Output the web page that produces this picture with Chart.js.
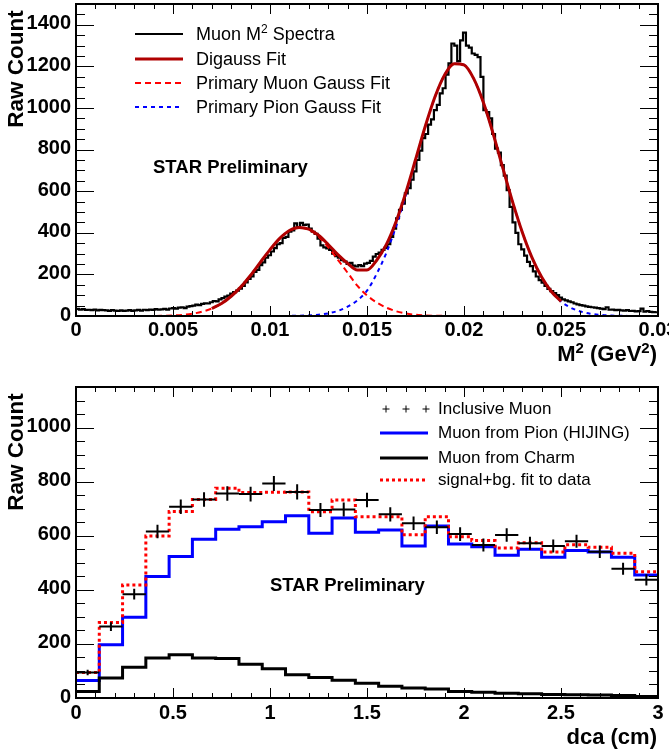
<!DOCTYPE html>
<html>
<head>
<meta charset="utf-8">
<script src="https://cdn.jsdelivr.net/npm/chart.js@4/dist/chart.umd.min.js"></script>
<style>
  html, body { margin:0; padding:0; background:#fff; }
  #wrap { position:relative; width:669px; height:755px; overflow:hidden; font-family:"Liberation Sans", Arial, Helvetica, sans-serif; color:#000; }
  canvas { position:absolute; left:0; }
  .t { position:absolute; white-space:nowrap; line-height:20px; }
  .leg1 { font-size:18px; }
  .leg2 { font-size:17px; }
  .bold { font-weight:bold; }
  .sup { font-size:12px; position:relative; top:-7px; }
  .supb { font-size:15px; position:relative; top:-8px; }
  .rot { transform: translate(-50%,-50%) rotate(-90deg); }
</style>
</head>
<body>
<div id="wrap">
  <canvas id="c1" width="669" height="370" style="top:0"></canvas>
  <canvas id="c2" width="669" height="385" style="top:370px"></canvas>

  <div class="t leg1" style="left:196px;top:24px">Muon M<span class="sup">2</span> Spectra</div>
  <div class="t leg1" style="left:196px;top:49px">Digauss Fit</div>
  <div class="t leg1" style="left:196px;top:73px">Primary Muon Gauss Fit</div>
  <div class="t leg1" style="left:196px;top:97px">Primary Pion Gauss Fit</div>
  <div class="t bold" style="left:153px;top:157px;font-size:18.5px">STAR Preliminary</div>
  <div class="t bold rot" style="left:16px;top:69px;font-size:22.5px">Raw Count</div>
  <div class="t bold" style="right:12px;top:342px;font-size:22px;line-height:24px">M<span class="supb">2</span> (GeV<span class="supb">2</span>)</div>

  <div class="t leg2" style="left:438px;top:399px">Inclusive Muon</div>
  <div class="t leg2" style="left:438px;top:423px">Muon from Pion (HIJING)</div>
  <div class="t leg2" style="left:438px;top:448px">Muon from Charm</div>
  <div class="t leg2" style="left:438px;top:470px">signal+bg. fit to data</div>
  <div class="t bold" style="left:270px;top:575px;font-size:18.5px">STAR Preliminary</div>
  <div class="t bold rot" style="left:16px;top:452px;font-size:22.5px">Raw Count</div>
  <div class="t bold" style="right:12px;top:725px;font-size:22px;line-height:24px">dca (cm)</div>
</div>
<script>
// ---------------- TOP PANEL DATA: M^2 spectrum ----------------
const M2_BIN_WIDTH = 0.00015; // 200 bins over 0 .. 0.03
const m2Counts = [
  34,31,33,29,30,28,31,27,29,28,
  27,25,28,26,24,27,25,26,28,25,
  27,29,26,30,28,31,29,33,30,32,
  34,31,36,38,35,40,42,38,45,47,
  50,55,52,58,61,60,66,72,70,80,
  86,93,98,108,115,122,132,145,162,178,
  190,212,222,245,258,280,292,310,326,345,
  350,375,380,405,412,445,425,448,438,440,
  420,405,395,372,340,330,325,318,300,288,
  280,268,262,250,255,242,238,245,240,252,
  255,265,285,298,305,318,328,345,380,420,
  470,510,540,590,615,655,695,750,795,855,
  875,920,945,990,1015,1070,1095,1160,1215,1310,
  1300,1225,1325,1362,1300,1290,1262,1255,1245,1150,
  990,980,950,875,805,785,725,675,605,525,
  450,400,345,320,290,260,240,215,190,172,
  160,145,130,120,110,100,88,80,75,70,
  66,60,56,52,50,46,44,42,40,38,
  35,33,42,30,31,28,29,27,26,28,
  24,25,22,23,35,21,24,20,19,18
];
const gaussX = [
  0,0.0005,0.001,0.0015,0.002,0.0025,0.003,0.0035,0.004,0.0045,
  0.005,0.0055,0.006,0.0065,0.007,0.0075,0.008,0.0085,0.009,0.0095,
  0.01,0.0105,0.011,0.0115,0.012,0.0125,0.013,0.0135,0.014,0.0145,
  0.015,0.0155,0.016,0.0165,0.017,0.0175,0.018,0.0185,0.019,0.0195,
  0.02,0.0205,0.021,0.0215,0.022,0.0225,0.023,0.0235,0.024,0.0245,
  0.025,0.0255,0.026,0.0265,0.027,0.0275,0.028,0.0285,0.029,0.0295,0.03
];
const muonGauss = [
  0,0,0,0,0,0,0,0.1,0.2,1,
  2.6,5.5,10.9,20.5,36,60,95,140,196,258,
  319,373,410,425,415,382,331,270,208,146,
  99,65,40,23,12,6,3,1.3,0.5,0.2,
  0,0,0,0,0,0,0,0,0,0,
  0,0,0,0,0,0,0,0,0,0,0
];
const pionGauss = [
  0,0,0,0,0,0,0,0,0,0,
  0,0,0,0,0,0,0,0,0,0,
  0.1,0.3,0.6,1.4,3,6.3,12.8,24.6,45,75,
  122,203,304,431,581,745,908,1052,1159,1213,
  1207,1141,1026,877,712,550,404,282,187,118,
  70,40,22,11,5.5,2.5,1.1,0.5,0.2,0.1,0
];
const fitX = [
  0.007,0.0075,0.008,0.0085,0.009,0.0095,0.01,0.0105,0.011,0.0115,
  0.012,0.0125,0.013,0.0135,0.014,0.0145,0.015,0.0155,0.016,0.0165,
  0.017,0.0175,0.018,0.0185,0.019,0.0195,0.02,0.0205,0.021,0.0215,
  0.022,0.0225,0.023,0.0235,0.024,0.0245,0.025
];
const digaussFit = [
  36,60,95,140,196,258,319,373,411,426,
  418,388,344,295,253,221,221,268,344,454,
  593,751,911,1053,1159,1213,1207,1141,1026,877,
  712,550,404,282,187,118,70
];
const topXTickValues = [0,0.005,0.01,0.015,0.02,0.025,0.03];
const topXTickLabels = ['0','0.005','0.01','0.015','0.02','0.025','0.03'];
const topYTickValues = [0,200,400,600,800,1000,1200,1400];
const topYTickLabels = ['0','200','400','600','800','1000','1200','1400'];

// ---------------- BOTTOM PANEL DATA: dca ----------------
const dcaEdges = [0,0.12,0.24,0.36,0.48,0.6,0.72,0.84,0.96,1.08,1.2,1.32,1.44,1.56,1.68,1.8,1.92,2.04,2.16,2.28,2.4,2.52,2.64,2.76,2.88,3.0];
const inclusiveMuon = [94,264,384,616,707,734,756,754,793,762,695,697,732,679,646,631,606,566,603,572,562,580,541,478,437];
const inclusiveErr  = [10,16,20,25,27,27,27,27,28,28,26,26,27,26,25,25,25,24,25,24,24,24,23,22,21];
const muonFromPion  = [65,197,299,449,523,587,624,633,652,674,609,666,613,621,562,636,569,559,528,550,520,545,540,520,455];
const muonFromCharm = [24,74,114,148,160,148,146,125,108,86,76,66,55,43,37,33,24,21,18,16,13,12,11,9,6];
const signalBgFit   = [94,279,418,599,690,734,776,760,761,762,689,732,670,670,604,670,596,582,555,574,540,567,557,535,467];
const botXTickValues = [0,0.5,1,1.5,2,2.5,3];
const botXTickLabels = ['0','0.5','1','1.5','2','2.5','3'];
const botYTickValues = [0,200,400,600,800,1000];
const botYTickLabels = ['0','200','400','600','800','1000'];

// ---------------- helpers ----------------
function stepFromBins(counts, width) {
  const pts = counts.map((v, i) => ({x: i * width, y: v}));
  pts.push({x: counts.length * width, y: counts[counts.length - 1]});
  return pts;
}
function stepFromEdges(edges, counts) {
  const pts = counts.map((v, i) => ({x: edges[i], y: v}));
  pts.push({x: edges[edges.length - 1], y: counts[counts.length - 1]});
  return pts;
}
function xy(xs, ys) { return xs.map((x, i) => ({x: x, y: ys[i]})); }

const FONT = '"Liberation Sans", Arial, Helvetica, sans-serif';

function rootAxes(o) {
  return {
    id: 'rootAxes',
    afterDatasetsDraw(chart) {
      const ctx = chart.ctx, a = chart.chartArea, xs = chart.scales.x, ys = chart.scales.y;
      ctx.save();
      ctx.strokeStyle = '#000';
      ctx.lineWidth = 1;
      ctx.setLineDash([]);
      const seg = (x1, y1, x2, y2) => { ctx.beginPath(); ctx.moveTo(x1, y1); ctx.lineTo(x2, y2); ctx.stroke(); };
      const nx = Math.round((o.xMax - o.xMin) / o.xMinor), rx = Math.round(o.xMajor / o.xMinor);
      for (let i = 0; i <= nx; i++) {
        const px = Math.round(xs.getPixelForValue(o.xMin + i * o.xMinor)) + 0.5;
        const L = (i % rx === 0) ? 10 : 5;
        seg(px, a.bottom, px, a.bottom - L);
        seg(px, a.top, px, a.top + L);
      }
      const ny = Math.floor((o.yMax - o.yMin) / o.yMinor + 1e-6), ry = Math.round(o.yMajor / o.yMinor);
      for (let i = 0; i <= ny; i++) {
        const py = Math.round(ys.getPixelForValue(o.yMin + i * o.yMinor)) + 0.5;
        const L = (i % ry === 0) ? 18 : 9;
        seg(a.left, py, a.left + L, py);
        seg(a.right, py, a.right - L, py);
      }
      ctx.lineWidth = 2;
      ctx.strokeRect(a.left, a.top, a.right - a.left, a.bottom - a.top);
      ctx.fillStyle = '#000';
      ctx.font = 'bold 20px ' + FONT;
      ctx.textAlign = 'center';
      ctx.textBaseline = 'middle';
      o.xTicks.forEach((v, i) => ctx.fillText(o.xLabels[i], xs.getPixelForValue(v), a.bottom + o.xLabelGap));
      ctx.textAlign = 'right';
      o.yTicks.forEach((v, i) => ctx.fillText(o.yLabels[i], a.left - 5, ys.getPixelForValue(v) - 1));
      ctx.restore();
    }
  };
}

function legendSamples(items) {
  return {
    id: 'legendSamples',
    afterDraw(chart) {
      const ctx = chart.ctx;
      ctx.save();
      items.forEach(it => {
        ctx.strokeStyle = it.color;
        ctx.lineWidth = it.width;
        ctx.setLineDash(it.dash || []);
        if (it.crosses) {
          it.crosses.forEach(cx => {
            ctx.beginPath();
            ctx.moveTo(cx - 3.5, it.y); ctx.lineTo(cx + 3.5, it.y);
            ctx.moveTo(cx, it.y - 3.5); ctx.lineTo(cx, it.y + 3.5);
            ctx.stroke();
          });
        } else {
          ctx.beginPath(); ctx.moveTo(it.x1, it.y); ctx.lineTo(it.x2, it.y); ctx.stroke();
        }
      });
      ctx.restore();
    }
  };
}

const errorBars = {
  id: 'errorBars',
  afterDatasetsDraw(chart) {
    const ctx = chart.ctx, xs = chart.scales.x, ys = chart.scales.y;
    ctx.save();
    ctx.strokeStyle = '#000';
    ctx.lineWidth = 2;
    ctx.setLineDash([]);
    inclusiveMuon.forEach((v, i) => {
      const x1 = xs.getPixelForValue(dcaEdges[i]), x2 = xs.getPixelForValue(dcaEdges[i + 1]);
      const xc = xs.getPixelForValue((dcaEdges[i] + dcaEdges[i + 1]) / 2);
      const yc = ys.getPixelForValue(v);
      const yt = ys.getPixelForValue(v + inclusiveErr[i]), yb = ys.getPixelForValue(v - inclusiveErr[i]);
      ctx.beginPath();
      ctx.moveTo(x1, yc); ctx.lineTo(x2, yc);
      ctx.moveTo(xc, yt); ctx.lineTo(xc, yb);
      ctx.stroke();
    });
    ctx.restore();
  }
};

const commonOptions = {
  responsive: false,
  animation: false,
  devicePixelRatio: 1,
  events: [],
  plugins: { legend: { display: false }, tooltip: { enabled: false } },
  elements: { point: { radius: 0 } }
};

// ---------------- TOP CHART ----------------
new Chart(document.getElementById('c1'), {
  type: 'line',
  data: {
    datasets: [
      { data: xy(fitX, digaussFit), borderColor: '#b00000', borderWidth: 3, cubicInterpolationMode: 'monotone', fill: false },
      { data: xy(gaussX, muonGauss), borderColor: '#ff0000', borderWidth: 2, borderDash: [6, 4], cubicInterpolationMode: 'monotone', fill: false },
      { data: xy(gaussX, pionGauss), borderColor: '#0000ff', borderWidth: 2, borderDash: [4, 4], cubicInterpolationMode: 'monotone', fill: false },
      { data: stepFromBins(m2Counts, M2_BIN_WIDTH), borderColor: '#000', borderWidth: 2.2, stepped: true, fill: false }
    ]
  },
  options: Object.assign({}, commonOptions, {
    layout: { padding: { left: 76, right: 11, top: 4, bottom: 54 } },
    scales: {
      x: { type: 'linear', min: 0, max: 0.03, display: false },
      y: { type: 'linear', min: 0, max: 1500, display: false }
    }
  }),
  plugins: [
    rootAxes({ xMin: 0, xMax: 0.03, xMinor: 0.001, xMajor: 0.005, yMin: 0, yMax: 1500, yMinor: 50, yMajor: 200,
               xTicks: topXTickValues, xLabels: topXTickLabels, yTicks: topYTickValues, yLabels: topYTickLabels, xLabelGap: 14 }),
    legendSamples([
      { x1: 135, x2: 183, y: 34, color: '#000', width: 2 },
      { x1: 135, x2: 183, y: 59, color: '#b00000', width: 3 },
      { x1: 135, x2: 183, y: 83, color: '#ff0000', width: 2, dash: [6, 4] },
      { x1: 135, x2: 183, y: 107, color: '#0000ff', width: 2, dash: [4, 4] }
    ])
  ]
});

// ---------------- BOTTOM CHART ----------------
new Chart(document.getElementById('c2'), {
  type: 'line',
  data: {
    datasets: [
      { data: stepFromEdges(dcaEdges, signalBgFit), borderColor: '#ff0000', borderWidth: 3, borderDash: [3, 3], stepped: true, fill: false },
      { data: stepFromEdges(dcaEdges, muonFromCharm), borderColor: '#000', borderWidth: 3, stepped: true, fill: false },
      { data: stepFromEdges(dcaEdges, muonFromPion), borderColor: '#0000ff', borderWidth: 3, stepped: true, fill: false }
    ]
  },
  options: Object.assign({}, commonOptions, {
    layout: { padding: { left: 76, right: 11, top: 17, bottom: 57 } },
    scales: {
      x: { type: 'linear', min: 0, max: 3, display: false },
      y: { type: 'linear', min: 0, max: 1150, display: false }
    }
  }),
  plugins: [
    errorBars,
    rootAxes({ xMin: 0, xMax: 3, xMinor: 0.1, xMajor: 0.5, yMin: 0, yMax: 1150, yMinor: 50, yMajor: 200,
               xTicks: botXTickValues, xLabels: botXTickLabels, yTicks: botYTickValues, yLabels: botYTickLabels, xLabelGap: 15 }),
    legendSamples([
      { crosses: [386, 406, 426], y: 39, color: '#000', width: 1 },
      { x1: 380, x2: 428, y: 63, color: '#0000ff', width: 3 },
      { x1: 380, x2: 428, y: 88, color: '#000', width: 3 },
      { x1: 380, x2: 428, y: 110, color: '#ff0000', width: 3, dash: [3, 3] }
    ])
  ]
});
</script>
</body>
</html>
